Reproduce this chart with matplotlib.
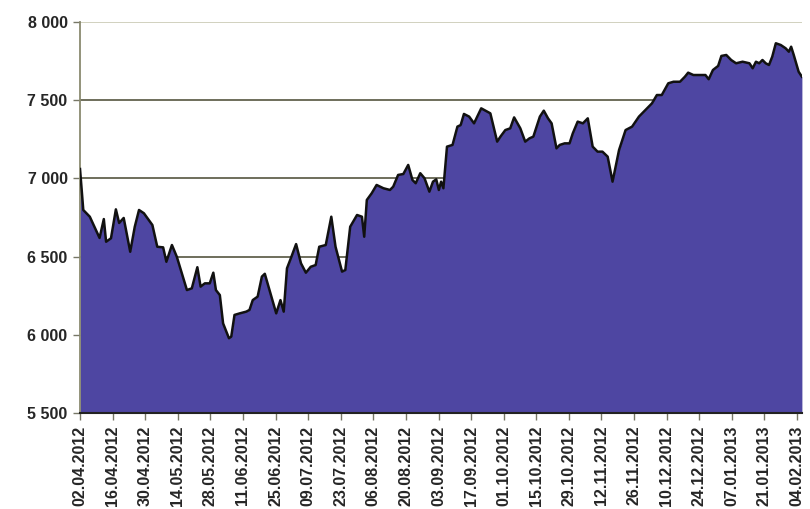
import matplotlib
matplotlib.use("Agg")
import matplotlib.pyplot as plt

# trading day index (business days from 02.04.2012) and index close
trading_day = [0, 1, 3, 6, 7.3, 8, 9.5, 11, 12, 13.4, 15.4, 16.8, 18.1, 19.6, 22.2, 23.7,
               25.5, 26.5, 28.2, 29.7, 32.8, 34.3, 36, 37, 38.3, 39.8, 40.9, 41.7, 42.9,
               43.9, 45.7, 46.4, 47.4, 49, 51, 52, 53, 54.5, 55.8, 56.7, 60.2, 61.5, 62.5,
               63.5, 64.7, 66.3, 67.8, 69.3, 70.8, 72.3, 73.4, 75.4, 77.1, 78.4, 80.4, 81.4,
               82.9, 85, 86.5, 87.2, 88, 89.5, 91, 93.1, 95.1, 96.1, 97.6, 99.2, 100.7, 102,
               103, 104.4, 105.7, 107.2, 108.3, 109.3, 110.1, 110.8, 111.5, 112.6, 114.3,
               115.8, 116.8, 117.8, 119.4, 120.9, 121.9, 123.1, 124.9, 125.9, 128, 129,
               130.5, 132, 133.2, 135.1, 136.6, 137.9, 139.1, 141.1, 142.3, 143.6, 144.7,
               146.2, 147.2, 148.7, 150.2, 151.2, 152.7, 154.3, 155.8, 157.3, 158.8, 160.3,
               161.9, 163.4, 165.4, 167.4, 169.4, 171.5, 173.5, 175.5, 177, 178.5, 180.5,
               182.1, 184.1, 185.6, 186.6, 188.2, 190.2, 191.9, 192.9, 194.2, 195.8, 196.8,
               198.3, 199.8, 201.3, 203.3, 205.4, 206.4, 207.4, 208.4, 209.4, 210.4, 211.4,
               212.4, 213.5, 215, 216.5, 217.5, 218.2, 219, 220.5, 221.5]
close = [7060, 6798, 6755, 6619, 6740, 6595, 6617, 6802, 6715, 6747, 6531, 6691, 6798, 6777,
         6702, 6563, 6559, 6467, 6574, 6499, 6286, 6297, 6432, 6308, 6329, 6329, 6397, 6286,
         6254, 6073, 5978, 5988, 6127, 6137, 6148, 6159, 6222, 6244, 6372, 6390, 6137, 6222,
         6148, 6425, 6490, 6580, 6457, 6397, 6435, 6446, 6563, 6574, 6755, 6563, 6404, 6414,
         6691, 6766, 6755, 6627, 6862, 6905, 6958, 6937, 6926, 6947, 7022, 7028, 7086, 6990,
         6969, 7033, 7001, 6915, 6979, 6994, 6926, 6979, 6937, 7203, 7214, 7331, 7341, 7412,
         7395, 7352, 7395, 7448, 7427, 7416, 7235, 7267, 7309, 7320, 7390, 7320, 7235, 7256,
         7267, 7395, 7433, 7384, 7352, 7192, 7214, 7224, 7224, 7288, 7363, 7352, 7384, 7203,
         7171, 7171, 7139, 6979, 7182, 7309, 7331, 7395, 7437, 7480, 7533, 7533, 7608, 7618,
         7618, 7650, 7676, 7661, 7661, 7661, 7634, 7693, 7719, 7783, 7789, 7757, 7736, 7746,
         7736, 7704, 7746, 7736, 7757, 7736, 7725, 7778, 7864, 7853, 7832, 7810, 7842, 7789,
         7682, 7650]

tick_labels = ["02.04.2012", "16.04.2012", "30.04.2012", "14.05.2012", "28.05.2012",
               "11.06.2012", "25.06.2012", "09.07.2012", "23.07.2012", "06.08.2012",
               "20.08.2012", "03.09.2012", "17.09.2012", "01.10.2012", "15.10.2012",
               "29.10.2012", "12.11.2012", "26.11.2012", "10.12.2012", "24.12.2012",
               "07.01.2013", "21.01.2013", "04.02.2013"]
y_ticks = [5500, 6000, 6500, 7000, 7500, 8000]

plt.rcParams['font.family'] = ['Liberation Sans', 'DejaVu Sans']

fig = plt.figure(figsize=(8.1, 5.09), dpi=100)
ax = fig.add_axes([0.0988, 0.1886, 0.8912, 0.7682])

ymin = y_ticks[0]
ax.fill_between(trading_day, close, ymin, color='#4e46a2', linewidth=0, zorder=2)
ax.plot(trading_day, close, color='#111111', lw=1.8, zorder=3)

# grid lines
for v in y_ticks[2:-1]:
    ax.axhline(v, color='#55553f', lw=1.2, zorder=1)
ax.axhline(y_ticks[-1], color='#c9c9b4', lw=1.2, zorder=1)

ax.set_xlim(0, trading_day[-1])
ax.set_ylim(ymin, y_ticks[-1])

ax.set_yticks(y_ticks)
ax.set_yticklabels([f"{v:,}".replace(",", " ") for v in y_ticks])
ax.set_xticks([i * 10 for i in range(len(tick_labels))])
ax.set_xticklabels(tick_labels, rotation=90)

ax.tick_params(axis='both', direction='out', length=5, width=1, color='#777766',
               labelsize=11.5, pad=4, labelcolor='#262626')
for lab in ax.get_xticklabels() + ax.get_yticklabels():
    lab.set_fontweight('bold')

for s in ['top', 'right']:
    ax.spines[s].set_visible(False)
ax.spines['left'].set_color('#8a8a70')
ax.spines['left'].set_linewidth(1.3)
ax.spines['bottom'].set_color('#222222')
ax.spines['bottom'].set_linewidth(1.5)

fig.savefig('out.png', dpi=100)
